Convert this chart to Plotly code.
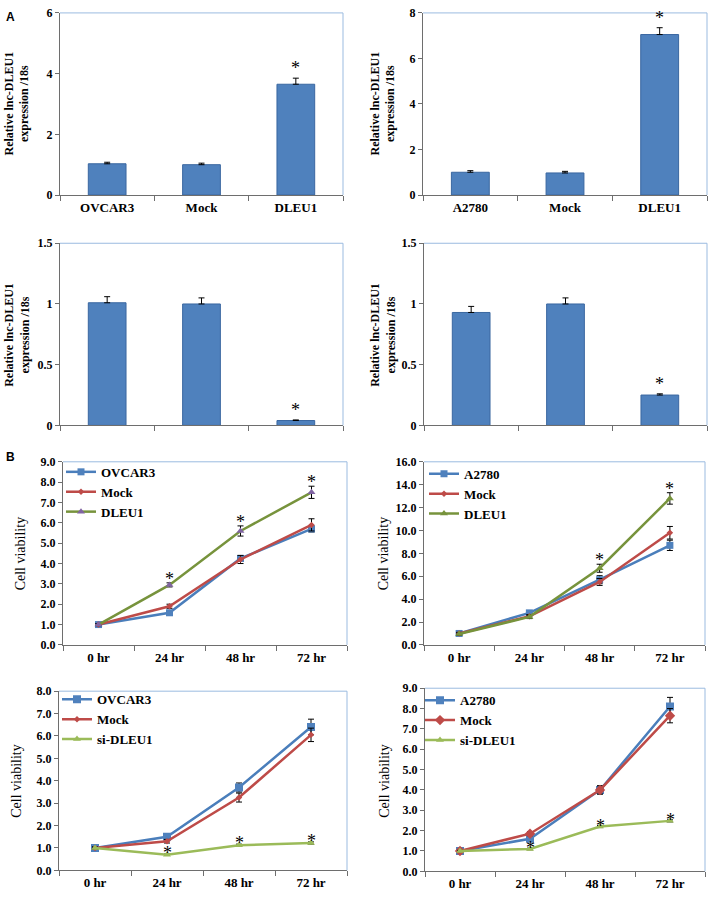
import plotly.graph_objects as go

# ---- data ----
bar_cats_1 = ["OVCAR3", "Mock", "DLEU1"]
bar_vals_1 = [1.03, 1.0, 3.65]
bar_err_1 = [0.05, 0.05, 0.2]

bar_cats_2 = ["A2780", "Mock", "DLEU1"]
bar_vals_2 = [1.0, 0.97, 7.05]
bar_err_2 = [0.07, 0.07, 0.3]

bar_vals_3 = [1.01, 1.0, 0.04]
bar_err_3 = [0.05, 0.05, 0.005]

bar_vals_4 = [0.93, 1.0, 0.25]
bar_err_4 = [0.05, 0.05, 0.01]

hours = ["0 hr", "24 hr", "48 hr", "72 hr"]

ov_ctrl = [1.0, 1.58, 4.25, 5.7]
ov_ctrl_err = [0.05, 0.08, 0.1, 0.15]
ov_mock = [1.0, 1.9, 4.2, 5.9]
ov_mock_err = [0.05, 0.1, 0.2, 0.3]
ov_dleu = [1.0, 2.95, 5.6, 7.5]
ov_dleu_err = [0.05, 0.1, 0.25, 0.3]

a2_ctrl = [1.0, 2.8, 5.7, 8.7]
a2_ctrl_err = [0.1, 0.15, 0.35, 0.45]
a2_mock = [1.0, 2.5, 5.5, 9.8]
a2_mock_err = [0.1, 0.15, 0.3, 0.55]
a2_dleu = [0.95, 2.45, 6.7, 12.8]
a2_dleu_err = [0.1, 0.15, 0.35, 0.5]

ov_ctrl_b = [1.0, 1.5, 3.7, 6.4]
ov_ctrl_b_err = [0.05, 0.08, 0.2, 0.35]
ov_mock_b = [1.0, 1.3, 3.25, 6.05]
ov_mock_b_err = [0.05, 0.08, 0.2, 0.3]
ov_si = [1.0, 0.7, 1.12, 1.22]
ov_si_err = [0.03, 0.03, 0.05, 0.05]

a2_ctrl_b = [1.0, 1.6, 4.0, 8.1]
a2_ctrl_b_err = [0.05, 0.1, 0.2, 0.45]
a2_mock_b = [1.0, 1.85, 4.0, 7.65]
a2_mock_b_err = [0.05, 0.1, 0.2, 0.35]
a2_si = [1.0, 1.1, 2.2, 2.48]
a2_si_err = [0.03, 0.04, 0.05, 0.05]

W, H = 709, 899
SERIF = "Liberation Serif"
BAR_BLUE = "#4F81BD"
BLUE = "#4A7EBB"
RED = "#BE4B48"
OLIVE = "#77933C"
PURPLE = "#8064A2"
LIME = "#9BBB59"
FRAME = "#9BBBE0"
AXIS = "#6e6e6e"


def fx(px):
    return px / W


def fy(py):
    return 1 - py / H


fig = go.Figure()
annotations = []
shapes = []


def setup_axes(n, box, xrange, yrange, dtick, fmt, xticks, xlabels, boundaries):
    x0, y0, x1, y1 = box
    xa = "xaxis" if n == 1 else "xaxis%d" % n
    ya = "yaxis" if n == 1 else "yaxis%d" % n
    fig.layout[xa] = dict(
        domain=[fx(x0), fx(x1)], anchor="y" if n == 1 else "y%d" % n,
        range=xrange, showgrid=False, zeroline=False, showline=True,
        linecolor=AXIS, linewidth=1, tickmode="array", tickvals=xticks,
        ticktext=xlabels, ticks="", fixedrange=True,
        tickfont=dict(family=SERIF, size=13, color="black", weight="bold"),
        minor=dict(tickmode="array", tickvals=boundaries, ticks="outside",
                   ticklen=5, tickcolor=AXIS),
    )
    fig.layout[ya] = dict(
        domain=[fy(y1), fy(y0)], anchor="x" if n == 1 else "x%d" % n,
        range=yrange, dtick=dtick, tick0=0, tickformat=fmt, showgrid=False,
        zeroline=False, showline=True, linecolor=AXIS, linewidth=1,
        ticks="outside", ticklen=4, tickcolor=AXIS,
        tickfont=dict(family=SERIF, size=12, color="black", weight="bold"),
    )
    xr = "x" if n == 1 else "x%d" % n
    yr = "y" if n == 1 else "y%d" % n
    # light blue plot-area frame (top and right)
    shapes.append(dict(type="line", xref=xr + " domain", yref=yr + " domain",
                       x0=0, x1=1, y0=1, y1=1, line=dict(color=FRAME, width=1)))
    shapes.append(dict(type="line", xref=xr + " domain", yref=yr + " domain",
                       x0=1, x1=1, y0=0, y1=1, line=dict(color=FRAME, width=1)))
    return xr, yr


def star(xr, yr, x, y, shift):
    annotations.append(dict(xref=xr, yref=yr, x=x, y=y, text="*", showarrow=False,
                            yanchor="bottom", yshift=shift,
                            font=dict(family=SERIF, size=18, color="black")))


def bar_panel(n, box, vals, errs, yrange, dtick, labels, star_idx):
    pos = list(range(len(vals)))
    xr, yr = setup_axes(n, box, [-0.5, 2.5], yrange, dtick, None, pos,
                        labels if labels else ["", "", ""], [-0.5, 0.5, 1.5, 2.5])
    fig.add_trace(go.Bar(
        x=pos, y=vals, width=0.4, xaxis=xr, yaxis=yr, showlegend=False,
        marker=dict(color=BAR_BLUE, line=dict(color="#3A67A0", width=1)),
        error_y=dict(type="data", array=errs, arrayminus=[0] * len(errs),
                     symmetric=False, color="black", thickness=1, width=3),
    ))
    for i in star_idx:
        star(xr, yr, pos[i], vals[i] + errs[i], -2)


def line_panel(n, box, series, yrange, legend, star_series, star_idx, star_shift):
    pos = list(range(len(hours)))
    xr, yr = setup_axes(n, box, [-0.5, 3.5], yrange, 1.0 if yrange[1] < 10 else 2.0,
                        ".1f", pos, hours, [-0.5, 0.5, 1.5, 2.5, 3.5])
    for name, vals, errs, lcol, mcol, sym, msize in series:
        fig.add_trace(go.Scatter(
            x=pos, y=vals, name=name, mode="lines+markers", xaxis=xr, yaxis=yr,
            legend=legend, line=dict(color=lcol, width=2.5),
            marker=dict(color=mcol, symbol=sym, size=msize,
                        line=dict(color=mcol, width=0)),
            error_y=dict(type="data", array=errs, color="black", thickness=1, width=3),
        ))
    vals, errs = star_series
    for i in star_idx:
        star(xr, yr, pos[i], vals[i] + errs[i], star_shift)


# ---- panel A ----
bar_panel(1, (60, 6, 343, 191), bar_vals_1, bar_err_1, [0, 6], 2, bar_cats_1, [2])
bar_panel(2, (423, 6, 707, 191), bar_vals_2, bar_err_2, [0, 8], 2, bar_cats_2, [2])
bar_panel(3, (60, 240, 343, 425), bar_vals_3, bar_err_3, [0, 1.5], 0.5, None, [2])
bar_panel(4, (424, 240, 707, 425), bar_vals_4, bar_err_4, [0, 1.5], 0.5, None, [2])

# ---- panel B ----
line_panel(5, (63, 462, 347, 648), [
    ("OVCAR3", ov_ctrl, ov_ctrl_err, BLUE, BAR_BLUE, "square", 7),
    ("Mock", ov_mock, ov_mock_err, RED, RED, "diamond", 5),
    ("DLEU1", ov_dleu, ov_dleu_err, OLIVE, PURPLE, "triangle-up", 7),
], [0, 9], "legend", (ov_dleu, ov_dleu_err), [1, 2, 3], -8)

line_panel(6, (424, 462, 705, 648), [
    ("A2780", a2_ctrl, a2_ctrl_err, BLUE, BAR_BLUE, "square", 7),
    ("Mock", a2_mock, a2_mock_err, RED, RED, "diamond", 5),
    ("DLEU1", a2_dleu, a2_dleu_err, OLIVE, OLIVE, "triangle-up", 7),
], [0, 16], "legend2", (a2_dleu, a2_dleu_err), [2, 3], -8)

line_panel(7, (59, 695, 347, 877), [
    ("OVCAR3", ov_ctrl_b, ov_ctrl_b_err, BLUE, BAR_BLUE, "square", 8),
    ("Mock", ov_mock_b, ov_mock_b_err, RED, RED, "diamond", 5),
    ("si-DLEU1", ov_si, ov_si_err, LIME, LIME, "triangle-up", 7),
], [0, 8], "legend3", (ov_si, ov_si_err), [1, 2, 3], -11)

line_panel(8, (425, 692, 705, 878), [
    ("A2780", a2_ctrl_b, a2_ctrl_b_err, BLUE, BAR_BLUE, "square", 8),
    ("Mock", a2_mock_b, a2_mock_b_err, RED, RED, "diamond", 8),
    ("si-DLEU1", a2_si, a2_si_err, LIME, LIME, "triangle-up", 7),
], [0, 9], "legend4", (a2_si, a2_si_err), [1, 2, 3], -12)

# ---- axis titles and panel letters ----
rel_title = "Relative lnc-DLEU1<br>expression /18s"
for px_, py_ in [(17, 98), (383, 98), (17, 333), (383, 333)]:
    annotations.append(dict(xref="paper", yref="paper", x=fx(px_), y=fy(py_),
                            xanchor="center", yanchor="middle",
                            text=rel_title, textangle=-90, showarrow=False,
                            font=dict(family=SERIF, size=12, color="black", weight="bold")))
for px_, py_ in [(20, 555), (383, 555), (17, 786), (385, 786)]:
    annotations.append(dict(xref="paper", yref="paper", x=fx(px_), y=fy(py_),
                            xanchor="center", yanchor="middle",
                            text="Cell viability", textangle=-90, showarrow=False,
                            font=dict(family=SERIF, size=14, color="black")))
annotations.append(dict(xref="paper", yref="paper", x=fx(4), y=fy(10), text="A",
                        showarrow=False, xanchor="left", yanchor="middle",
                        font=dict(family="Liberation Sans", size=12, color="black", weight="bold")))
annotations.append(dict(xref="paper", yref="paper", x=fx(4), y=fy(457), text="B",
                        showarrow=False, xanchor="left", yanchor="middle",
                        font=dict(family="Liberation Sans", size=12, color="black", weight="bold")))


def legend_box(px_, py_):
    return dict(x=fx(px_), y=fy(py_), xanchor="left", yanchor="top",
                bgcolor="rgba(0,0,0,0)", itemwidth=30, tracegroupgap=0,
                font=dict(family=SERIF, size=13, color="black", weight="bold"))


fig.update_layout(
    width=W, height=H, margin=dict(l=0, r=0, t=0, b=0),
    plot_bgcolor="white", paper_bgcolor="white",
    annotations=annotations, shapes=shapes,
    legend=legend_box(61, 457),
    legend2=legend_box(424, 459),
    legend3=legend_box(57, 688),
    legend4=legend_box(420, 689),
)

fig.write_html("out.html", config={"displayModeBar": False},
               post_script="document.body.style.margin='0';")
